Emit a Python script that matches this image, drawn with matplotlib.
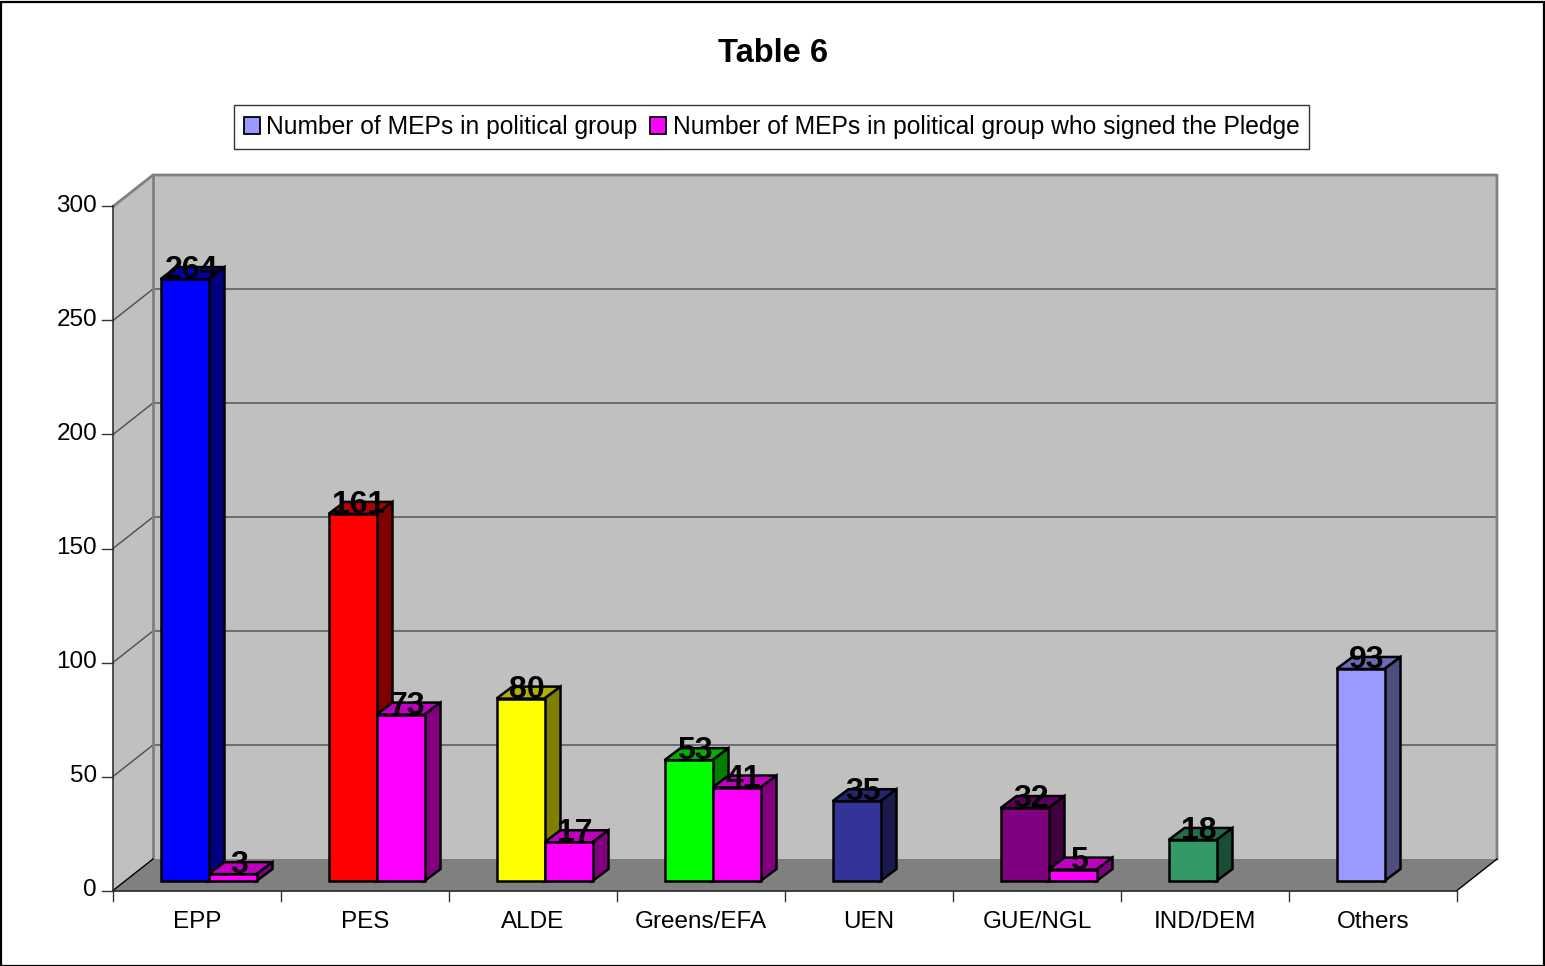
import matplotlib
matplotlib.use('Agg')
import matplotlib.pyplot as plt
from matplotlib.patches import Polygon, Rectangle

plt.rcParams['font.family'] = ['Liberation Sans', 'DejaVu Sans']

groups = ['EPP', 'PES', 'ALDE', 'Greens/EFA', 'UEN', 'GUE/NGL', 'IND/DEM', 'Others']
members = [264, 161, 80, 53, 35, 32, 18, 93]
signed = [3, 73, 17, 41, None, 5, None, None]
member_colors = ['#0000FF', '#FF0000', '#FFFF00', '#00FF00', '#333399', '#800080', '#339966', '#9999FF']
member_sides = ['#000080', '#800000', '#808000', '#008000', '#1A1A4D', '#400040', '#1A4D33', '#4D4D80']
member_tops = ['#0000B0', '#B00000', '#B0B000', '#00B000', '#242470', '#5A005A', '#246B47', '#6B6BB3']
signed_color = '#FF00FF'
signed_side = '#800080'
signed_top = '#C000C0'
yticks = [0, 50, 100, 150, 200, 250, 300]
series_names = ['Number of MEPs in political group', 'Number of MEPs in political group who signed the Pledge']

W, H = 1545, 966
fig = plt.figure(figsize=(W / 100, H / 100), dpi=100, facecolor='white')

# front plane of the fake 3D box, in pixels
left, right, bottom, top = 113, 1457, 890.5, 206.5
ax = fig.add_axes([left / W, 1 - bottom / H, (right - left) / W, (bottom - top) / H])
ax.set_xlim(0, len(groups))
ax.set_ylim(0, 300)
ax.axis('off')

px_x = len(groups) / (right - left)
px_y = 300 / (bottom - top)
wall_dx, wall_dy = 40 * px_x, 31.5 * px_y
bar_dx, bar_dy = 16 * px_x, 12 * px_y
base_dx, base_dy = 11.5 * px_x, 9.5 * px_y
bar_w = 48 * px_x
n = len(groups)


def poly(pts, fc, ec='none', lw=0, z=1):
    ax.add_patch(Polygon(pts, closed=True, facecolor=fc, edgecolor=ec, linewidth=lw,
                         zorder=z, clip_on=False, joinstyle='miter'))


# walls and floor
poly([(wall_dx, wall_dy), (n + wall_dx, wall_dy), (n + wall_dx, 300 + wall_dy), (wall_dx, 300 + wall_dy)], '#C0C0C0')
poly([(0, 0), (wall_dx, wall_dy), (wall_dx, 300 + wall_dy), (0, 300)], '#C0C0C0')
poly([(0, 0), (n, 0), (n + wall_dx, wall_dy), (wall_dx, wall_dy)], '#808080')

for v in yticks[1:-1]:
    ax.plot([0, wall_dx, n + wall_dx], [v, v + wall_dy, v + wall_dy], color='#4d4d4d', lw=1, zorder=2, clip_on=False)
ax.plot([0, wall_dx, n + wall_dx, n + wall_dx], [300, 300 + wall_dy, 300 + wall_dy, wall_dy],
        color='#808080', lw=2, zorder=2, clip_on=False)
ax.plot([wall_dx, wall_dx], [wall_dy, 300 + wall_dy], color='#808080', lw=2, zorder=2, clip_on=False)
ax.plot([0, wall_dx], [0, wall_dy], color='black', lw=1, zorder=2, clip_on=False)
ax.plot([n, n + wall_dx], [0, wall_dy], color='black', lw=1, zorder=2, clip_on=False)

# axis lines and ticks
ax.plot([0, 0], [0, 300], color='#333333', lw=1.2, zorder=3, clip_on=False)
ax.plot([0, n], [0, 0], color='#222222', lw=1.2, zorder=3, clip_on=False)
for v in yticks:
    ax.plot([-11 * px_x, 0], [v, v], color='#333333', lw=1, zorder=3, clip_on=False)
    ax.text(-16 * px_x, v, str(v), ha='right', va='center', fontsize=17.5, color='black')
for i in range(n + 1):
    ax.plot([i, i], [0, -10 * px_y], color='#333333', lw=1, zorder=3, clip_on=False)


def draw_bar(x0, value, fc, side, topc, z):
    x1 = x0 + bar_w
    y1 = base_dy + value
    poly([(x0, y1), (x1, y1), (x1 + bar_dx, y1 + bar_dy), (x0 + bar_dx, y1 + bar_dy)], topc, 'black', 1.8, z)
    poly([(x1, base_dy), (x1 + bar_dx, base_dy + bar_dy), (x1 + bar_dx, y1 + bar_dy), (x1, y1)], side, 'black', 1.8, z)
    ax.add_patch(Rectangle((x0, base_dy), bar_w, value, facecolor=fc, edgecolor='black',
                           linewidth=1.8, zorder=z, clip_on=False))
    ax.text(x0 + bar_w / 2 + 6.5 * px_x, y1 + 9 * px_y, str(value), ha='center', va='center',
            fontsize=23, fontweight='bold', color='black', zorder=20)


for i, name in enumerate(groups):
    centre = i + 0.5
    x0 = centre + base_dx - bar_w
    draw_bar(x0, members[i], member_colors[i], member_sides[i], member_tops[i], 5)
    if signed[i] is not None:
        draw_bar(x0 + bar_w, signed[i], signed_color, signed_side, signed_top, 6)
    ax.text(centre, -32 * px_y, name, ha='center', va='center', fontsize=17.5, color='black')

# title and outer frame
fig.text(773 / W, 1 - 54 / H, 'Table 6', ha='center', va='center', fontsize=23.5, fontweight='bold')
fig.add_artist(Rectangle((1 / W, 1 - 965.5 / H), 1543 / W, 963.5 / H, transform=fig.transFigure,
                         facecolor='none', edgecolor='black', linewidth=1.6))

# legend box
handles = [Rectangle((0, 0), 1, 1, facecolor='#9999FF', edgecolor='black', linewidth=1.3),
           Rectangle((0, 0), 1, 1, facecolor=signed_color, edgecolor='black', linewidth=1.3)]
leg = fig.legend(handles, series_names, ncol=2, loc='center', bbox_to_anchor=(771.5 / W, 1 - 127 / H),
                 fontsize=17.75, frameon=True, fancybox=False, edgecolor='#333333', framealpha=1,
                 handlelength=0.65, handleheight=0.65, handletextpad=0.28, columnspacing=0.49,
                 borderpad=0.4, borderaxespad=0)
leg.get_frame().set_linewidth(1)

fig.savefig('out.png', dpi=100)
